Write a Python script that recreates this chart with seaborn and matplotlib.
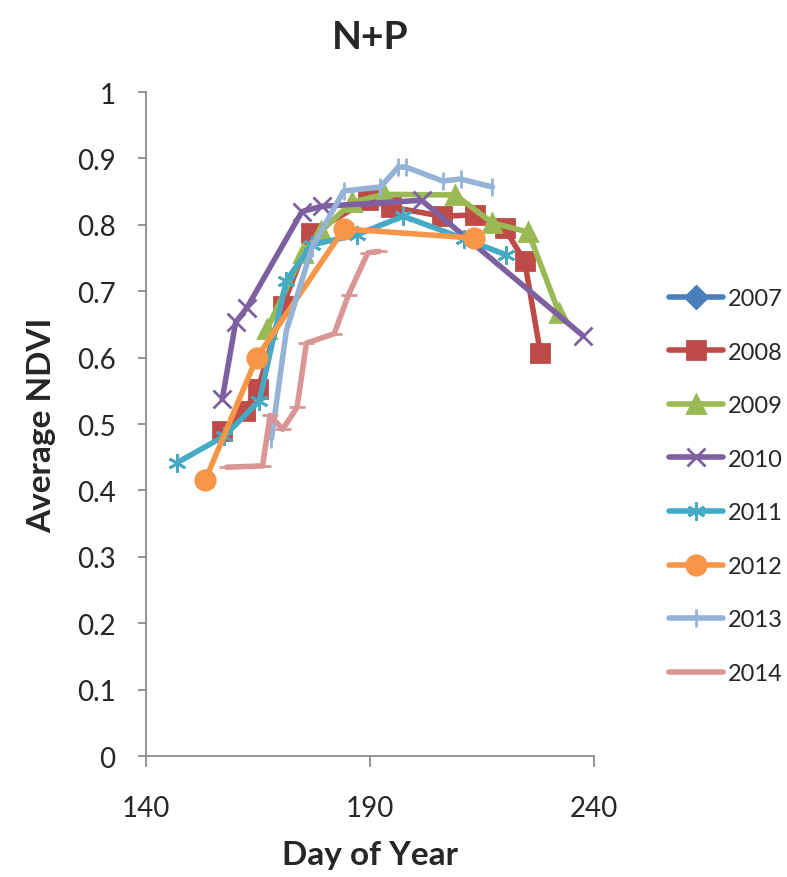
"""
Average NDVI by day of year for the N+P treatment, 2007-2014.
"""

import matplotlib.pyplot as plt
import seaborn as sns


YEARS = ["2007", "2008", "2009", "2010", "2011", "2012", "2013", "2014"]

DAY_2007 = []
NDVI_2007 = []

DAY_2008 = [157, 162, 165, 170.5, 176.8, 189.6, 194.6, 206, 213.5, 220, 224.5, 228]
NDVI_2008 = [0.49, 0.52, 0.553, 0.678, 0.787, 0.838, 0.827, 0.813, 0.815, 0.795, 0.745, 0.607]

DAY_2009 = [167, 175, 179, 186, 193, 209, 217.3, 225.3, 232.2]
NDVI_2009 = [0.643, 0.757, 0.79, 0.834, 0.846, 0.845, 0.803, 0.789, 0.667]

DAY_2010 = [157, 160, 162.5, 174.8, 179.3, 201.5, 237.5]
NDVI_2010 = [0.537, 0.653, 0.675, 0.82, 0.828, 0.837, 0.633]

DAY_2011 = [147, 157.5, 165.3, 171.3, 177, 187, 197.4, 211, 220.3]
NDVI_2011 = [0.442, 0.482, 0.535, 0.716, 0.77, 0.785, 0.813, 0.779, 0.755]

DAY_2012 = [153.2, 164.7, 184.2, 213.2]
NDVI_2012 = [0.415, 0.6, 0.794, 0.78]

DAY_2013 = [168, 171.3, 177, 184.1, 192.3, 196.3, 198, 206.2, 210.2, 217.3]
NDVI_2013 = [0.478, 0.64, 0.765, 0.851, 0.857, 0.887, 0.887, 0.866, 0.869, 0.857]

DAY_2014 = [158, 166, 167.7, 170.5, 173.7, 175.8, 182, 185.2, 189.5, 192]
NDVI_2014 = [0.435, 0.437, 0.513, 0.492, 0.525, 0.622, 0.636, 0.695, 0.758, 0.76]

X_TICKS = [140, 190, 240]
Y_TICKS = [0, 0.1, 0.2, 0.3, 0.4, 0.5, 0.6, 0.7, 0.8, 0.9, 1]
Y_TICK_LABELS = ["0", "0.1", "0.2", "0.3", "0.4", "0.5", "0.6", "0.7", "0.8", "0.9", "1"]

SERIES = [
    (DAY_2007, NDVI_2007, "#4A7EBB", "D", 12),
    (DAY_2008, NDVI_2008, "#BE4B48", "s", 13),
    (DAY_2009, NDVI_2009, "#98B954", "^", 13),
    (DAY_2010, NDVI_2010, "#7D60A0", "x", 13),
    (DAY_2011, NDVI_2011, "#46AAC5", (6, 2, 0), 13),
    (DAY_2012, NDVI_2012, "#F79646", "o", 14),
    (DAY_2013, NDVI_2013, "#95B3D7", "|", 13),
    (DAY_2014, NDVI_2014, "#D99694", "_", 12),
]


def main() -> None:
    sns.set_style("white")
    plt.rcParams["font.family"] = ["Lato", "DejaVu Sans"]

    fig = plt.figure(figsize=(7.87, 8.78), dpi=100)
    ax = fig.add_axes([0.1855, 0.1378, 0.5695, 0.7562])

    for year, (days, values, color, marker, size) in zip(YEARS, SERIES):
        if len(days) == 0:
            ax.plot([], [], color=color, marker=marker, markersize=size,
                    linewidth=4, label=year)
            continue
        sns.lineplot(
            x=days,
            y=values,
            ax=ax,
            color=color,
            marker=marker,
            markersize=size,
            markeredgewidth=2,
            markeredgecolor=color,
            linewidth=4,
            sort=False,
            label=year,
        )

    ax.set_xlim(140, 240)
    ax.set_ylim(0, 1)
    ax.set_xticks(X_TICKS)
    ax.set_yticks(Y_TICKS)
    ax.set_yticklabels(Y_TICK_LABELS)

    for side in ["top", "right"]:
        ax.spines[side].set_visible(False)
    for side in ["left", "bottom"]:
        ax.spines[side].set_color("#8c8c8c")
        ax.spines[side].set_linewidth(1.3)

    ax.tick_params(axis="x", direction="out", length=8, width=1.3,
                   color="#8c8c8c", pad=20, labelsize=20, bottom=True)
    ax.tick_params(axis="y", direction="out", length=6, width=1.3,
                   color="#8c8c8c", pad=16, labelsize=20, left=True)

    ax.set_title("N+P", fontsize=28, fontweight="bold", pad=32)
    ax.set_xlabel("Day of Year", fontsize=24, fontweight="bold", labelpad=14)
    ax.set_ylabel("Average NDVI", fontsize=24, fontweight="bold", labelpad=15)

    ax.legend(
        loc="center left",
        bbox_to_anchor=(0.835, 0.4453),
        bbox_transform=fig.transFigure,
        frameon=False,
        fontsize=17,
        handlelength=2.3,
        handletextpad=0.2,
        labelspacing=1.38,
        borderpad=0,
    )

    fig.savefig("out.png", dpi=100, facecolor="white")
    plt.close(fig)


if __name__ == "__main__":
    main()
